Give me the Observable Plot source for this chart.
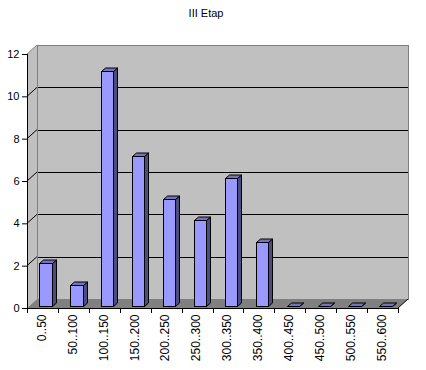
<!DOCTYPE html>
<html>
<head>
<meta charset="utf-8">
<script src="https://cdn.jsdelivr.net/npm/d3@7"></script>
<script src="https://cdn.jsdelivr.net/npm/@observablehq/plot@0.6"></script>
<style>
  body { margin: 0; background: #ffffff; }
  #chart svg { display: block; }
</style>
</head>
<body>
<div id="chart"></div>
<script>
// ---- data ----
const title = "III Etap";
const categories = ["0..50", "50..100", "100..150", "150..200", "200..250", "250..300",
                    "300..350", "350..400", "400..450", "450..500", "500..550", "550..600"];
const counts = [2, 1, 11, 7, 5, 4, 6, 3, 0, 0, 0, 0];
const yTicks = [0, 2, 4, 6, 8, 10, 12];

const data = categories.map((c, i) => ({cat: c, n: counts[i]}));

// ---- 3D look constants ----
const WALL_DX = 10, WALL_DY = -9;      // depth of the back wall
const BAR_OX = 3, BAR_OY = -2;         // bar front offset from front plane
const BAR_DX = 4, BAR_DY = -3.5;       // bar depth
const BAR_FRAC = 0.4;                  // bar width as a fraction of band
const BAR_K = 1.01;                    // slight perspective of bar heights
const C_FRONT = "#9999ff", C_TOP = "#7373bf", C_SIDE = "#4c4c80";

const px = v => Math.round(v) + 0.5;
const pts = arr => arr.map(p => p[0] + "," + p[1]).join(" ");

function walls(index, scales, values, dim) {
  const y = scales.y;
  const x0 = dim.marginLeft, x1 = dim.width - dim.marginRight;
  const yMax = yTicks[yTicks.length - 1];
  const y0 = y(0), yT = y(yMax);
  const g = d3.create("svg:g");
  // left wall
  g.append("polygon").attr("points", pts([[x0, y0], [x0, yT], [x0 + WALL_DX, yT + WALL_DY], [x0 + WALL_DX, y0 + WALL_DY]]))
    .attr("fill", "#c0c0c0");
  // back wall
  g.append("rect").attr("x", px(x0 + WALL_DX)).attr("y", px(yT + WALL_DY))
    .attr("width", Math.round(x1 - x0)).attr("height", Math.round(y0 - yT))
    .attr("fill", "#c0c0c0").attr("stroke", "#808080");
  // floor
  g.append("polygon").attr("points", pts([[x0, y0], [x0 + WALL_DX, y0 + WALL_DY], [x1 + WALL_DX, y0 + WALL_DY], [x1, y0]]))
    .attr("fill", "#808080");
  // gridlines
  for (const t of yTicks) {
    if (t === 0) continue;
    const yy = y(t);
    const col = t === yMax ? "#808080" : "#000000";
    g.append("line").attr("x1", x0).attr("y1", yy).attr("x2", x0 + WALL_DX).attr("y2", yy + WALL_DY)
      .attr("stroke", col);
    if (t !== yMax) {
      g.append("line").attr("x1", x0 + WALL_DX).attr("x2", x1 + WALL_DX)
        .attr("y1", px(yy + WALL_DY)).attr("y2", px(yy + WALL_DY))
        .attr("stroke", "#000").attr("shape-rendering", "crispEdges");
    }
  }
  // back-wall left edge
  g.append("line").attr("x1", px(x0 + WALL_DX)).attr("x2", px(x0 + WALL_DX))
    .attr("y1", yT + WALL_DY).attr("y2", y0 + WALL_DY).attr("stroke", "#808080");
  // floor right edge
  g.append("line").attr("x1", x1).attr("y1", y0).attr("x2", x1 + WALL_DX).attr("y2", y0 + WALL_DY)
    .attr("stroke", "#000");
  return g.node();
}

function bars3d(index, scales, values, dim) {
  const {x, y} = scales;
  const bw = x.bandwidth ? x.bandwidth() : (dim.width - dim.marginLeft - dim.marginRight) / categories.length;
  const y0 = y(0);
  const g = d3.create("svg:g").attr("stroke", "#000").attr("stroke-linejoin", "miter");
  for (const d of data) {
    const cx = x(d.cat) + bw / 2 + BAR_OX;
    const L = Math.round(cx - bw * BAR_FRAC / 2) + 0.5;
    const R = Math.round(cx + bw * BAR_FRAC / 2) + 0.5;
    const B = Math.round(y0 + BAR_OY) + 0.5;
    const T = Math.round(y0 + BAR_OY - (y0 - y(d.n)) * BAR_K) + 0.5;
    // side
    g.append("polygon").attr("points", pts([[R, B], [R, T], [R + BAR_DX, T + BAR_DY], [R + BAR_DX, B + BAR_DY]]))
      .attr("fill", C_SIDE);
    // top
    g.append("polygon").attr("points", pts([[L, T], [L + BAR_DX, T + BAR_DY], [R + BAR_DX, T + BAR_DY], [R, T]]))
      .attr("fill", C_TOP);
    // front
    if (B - T > 0) {
      g.append("rect").attr("x", L).attr("y", T).attr("width", R - L).attr("height", B - T)
        .attr("fill", C_FRONT);
    }
  }
  return g.node();
}

function axisLines(index, scales, values, dim) {
  const {x, y} = scales;
  const x0 = dim.marginLeft, x1 = dim.width - dim.marginRight;
  const y0 = y(0), yT = y(yTicks[yTicks.length - 1]);
  const bw = x.bandwidth ? x.bandwidth() : (x1 - x0) / categories.length;
  const g = d3.create("svg:g").attr("stroke", "#000").attr("shape-rendering", "crispEdges");
  g.append("line").attr("x1", px(x0)).attr("x2", px(x0)).attr("y1", yT).attr("y2", y0 + 1);
  g.append("line").attr("x1", x0).attr("x2", x1 + 1).attr("y1", px(y0)).attr("y2", px(y0));
  const bounds = categories.map(c => x(c)).concat([x(categories[categories.length - 1]) + bw]);
  for (const b of bounds) {
    g.append("line").attr("x1", px(b)).attr("x2", px(b)).attr("y1", y0).attr("y2", y0 + 5);
  }
  return g.node();
}

const chart = Plot.plot({
  width: 426,
  height: 370,
  marginLeft: 27,
  marginRight: 28,
  marginTop: 54,
  marginBottom: 62,
  style: {
    fontFamily: "'Liberation Sans', Arial, sans-serif",
    fontSize: "11px",
    color: "#000",
    background: "#fff",
    overflow: "visible"
  },
  x: {type: "band", domain: categories, padding: 0, round: false},
  y: {domain: [0, 12]},
  marks: [
    walls,
    bars3d,
    axisLines,
    Plot.axisY({ticks: yTicks, tickSize: 5, tickPadding: 3, label: null, fontSize: 11}),
    Plot.axisX({tickSize: 0, tickPadding: 6, tickRotate: -90, label: null, fontSize: 12, dx: -1}),
    Plot.text([title], {text: d => d, frameAnchor: "top", lineAnchor: "middle", dy: -41, dx: -7, fontSize: 11})
  ]
});
document.getElementById("chart").appendChild(chart);
</script>
</body>
</html>
